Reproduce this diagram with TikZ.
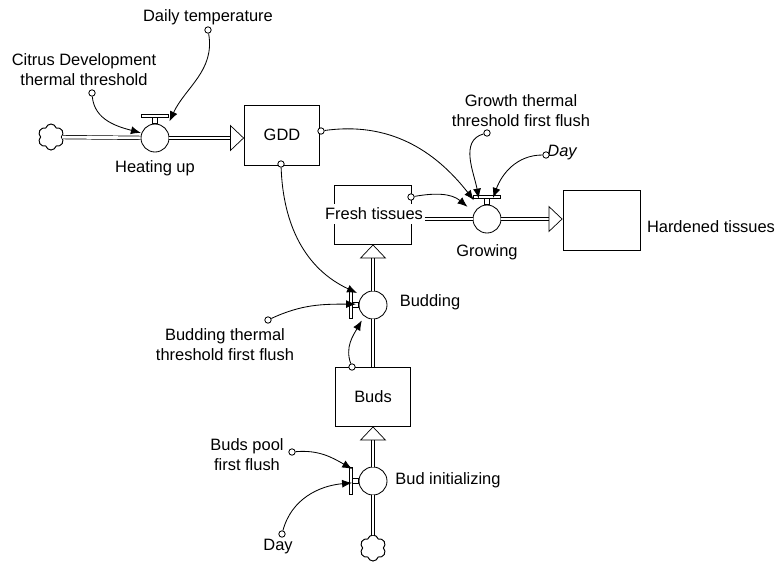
\documentclass[tikz,border=0pt]{standalone}
\usepackage{fontspec}
\setmainfont{Liberation Sans}
\usepackage{tikz}
\usetikzlibrary{arrows.meta,shapes.symbols}
\newcommand{\sdfont}{\fontsize{11.7}{14.2}\selectfont}
\tikzset{
  lbl/.style={font=\sdfont, inner sep=1pt},
  stock/.style={draw, line width=0.6pt, font=\sdfont, minimum width=18.75mm, minimum height=15mm},
  valve/.style={draw, circle, line width=0.6pt, fill=white, minimum size=7mm, inner sep=0pt},
  auxdot/.style={draw, circle, line width=0.6pt, fill=white, minimum size=1.6mm, inner sep=0pt},
  cloudsrc/.style={draw, cloud, cloud puffs=6, aspect=1, line width=0.7pt, minimum size=6.5mm, inner sep=0pt},
  pipe/.style={double, double distance=0.7mm, line width=0.5pt},
  pipeend/.style={-{Triangle[open, length=3.5mm, width=6.6mm]}},
  handle/.style={draw, line width=0.5pt, fill=white},
  conn/.style={line width=0.6pt, -{Latex[length=2.5mm, width=2mm]}}
}

\begin{document}
\begin{tikzpicture}[x=0.25mm, y=0.25mm]
          \useasboundingbox (0,0) rectangle (778,-565);

          \node[lbl] (DailyTemp) at (208,-17) {Daily temperature};
          \node[auxdot] (DailyTempDot) at (208,-30) {};
          \node[lbl, align=center] (CitrusThr) at (84,-70) {Citrus Development\\thermal threshold};
          \node[auxdot] (CitrusThrDot) at (92,-93) {};
          \node[cloudsrc] (CloudA) at (51,-137) {};
          \node[valve] (HeatingUp) at (155,-138) {};
          \node[lbl] (HeatingUpLbl) at (155,-168) {Heating up};
          \node[stock] (GDD) at (282,-135) {GDD};
          \node[auxdot] (GDDDotR) at (321,-131) {};
          \node[auxdot] (GDDDotB) at (281,-164) {};

          \node[stock, minimum width=19.25mm, minimum height=14.75mm] (FreshTissues) at (373,-214.5) {};
          \node[lbl, fill=white, inner ysep=3pt] (FreshLbl) at (374,-214) {Fresh tissues};
          \node[auxdot] (FreshDot) at (411,-197) {};
          \node[valve] (Growing) at (487,-219) {};
          \node[lbl] (GrowingLbl) at (487,-252) {Growing};
          \node[lbl, align=center] (GrowthThr) at (521,-110.5) {Growth thermal\\threshold first flush};
          \node[auxdot] (GrowthThrDot) at (487,-133) {};
          \node[lbl, font=\sdfont\itshape] (DayA) at (562,-153) {Day};
          \node[auxdot] (DayADot) at (546,-155) {};
          \node[stock, minimum width=19.25mm] (Hardened) at (601.5,-220) {};
          \node[lbl] (HardenedLbl) at (711,-227) {Hardened tissues};

          \node[valve] (Budding) at (373,-305) {};
          \node[lbl] (BuddingLbl) at (430,-302) {Budding};
          \node[lbl, align=center] (BudThr) at (225,-345) {Budding thermal\\threshold first flush};
          \node[auxdot] (BudThrDot) at (268,-320) {};
          \node[stock, minimum height=14.75mm] (Buds) at (373,-396.5) {Buds};
          \node[auxdot] (BudsDot) at (352,-367) {};

          \node[valve] (BudInit) at (373,-481) {};
          \node[lbl] (BudInitLbl) at (448,-480) {Bud initializing};
          \node[lbl, align=center] (BudsPool) at (247,-455) {Buds pool\\first flush};
          \node[auxdot] (BudsPoolDot) at (292,-452) {};
          \node[lbl] (DayB) at (278,-547) {Day};
          \node[auxdot] (DayBDot) at (282,-534) {};
          \node[cloudsrc] (CloudB) at (373,-548) {};

          \draw[pipe] (CloudA) -- (HeatingUp);
          \draw[pipe, pipeend] (HeatingUp) -- (HeatingUp -| GDD.west);
          \draw[pipe] (FreshLbl.east |- Growing) -- (Growing);
          \draw[pipe, pipeend] (Growing) -- (Growing -| Hardened.west);
          \draw[pipe] (Buds) -- (Budding);
          \draw[pipe, pipeend] (Budding) -- (FreshTissues);
          \draw[pipe] (CloudB) -- (BudInit);
          \draw[pipe, pipeend] (BudInit) -- (Buds);

          \path[handle] ([shift={(-2.5,0)}]HeatingUp.north) rectangle ++(5,6) ++(-16,0) rectangle ++(27,3);
          \path[handle] ([shift={(-2.5,0)}]Growing.north) rectangle ++(5,6) ++(-16,0) rectangle ++(27,3);
          \path[handle] ([shift={(0,-2.5)}]Budding.west) rectangle ++(-6,5) ++(0,-16) rectangle ++(-3,27);
          \path[handle] ([shift={(0,-2.5)}]BudInit.west) rectangle ++(-6,5) ++(0,-16) rectangle ++(-3,27);

          \draw[conn] (DailyTempDot) to[out=-80, in=65] ([shift={(49:22)}]HeatingUp.center);
          \draw[conn] (CitrusThrDot) to[out=-85, in=165] ([shift={(160:15)}]HeatingUp.center);
          \draw[conn] (GDDDotR) to[out=8, in=128] ([shift={(125:23)}]Growing.center);
          \draw[conn] (GrowthThrDot) to[out=195, in=100] ([shift={(112:22)}]Growing.center);
          \draw[conn] (DayADot) to[out=180, in=70] ([shift={(74:22)}]Growing.center);
          \draw[conn] (FreshDot) to[out=10, in=140] ([shift={(148:23)}]Growing.center);
          \draw[conn] (GDDDotB) to[out=-88, in=155] ([shift={(143:20)}]Budding.center);
          \draw[conn] (BudThrDot) to[out=25, in=180] ([shift={(177:17)}]Budding.center);
          \draw[conn] (BudsDot) to[out=110, in=-120] ([shift={(234:19)}]Budding.center);
          \draw[conn] (BudsPoolDot) to[out=5, in=150] ([shift={(150:24)}]BudInit.center);
          \draw[conn] (DayBDot) to[out=75, in=185] ([shift={(185:21)}]BudInit.center);
        \end{tikzpicture}
\end{document}
